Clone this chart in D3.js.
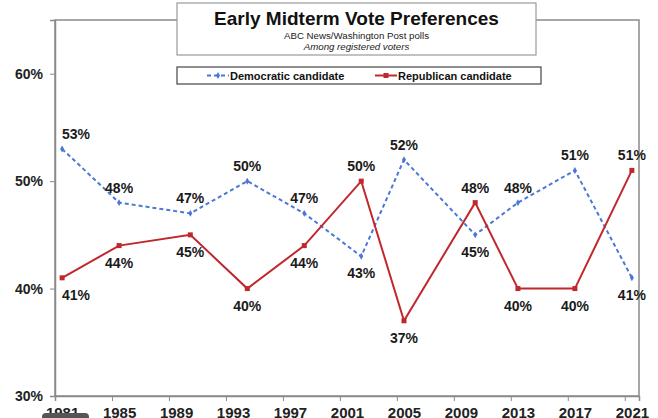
<!DOCTYPE html>
<html>
<head>
<meta charset="utf-8">
<script src="https://cdn.jsdelivr.net/npm/d3@7"></script>
<style>
  body { margin: 0; background: #fff; }
  svg { font-family: Arial, "Liberation Sans", sans-serif; display: block; }
</style>
</head>
<body>
<script>
// Data
const years = [1981.5, 1985.5, 1990.5, 1994.5, 1998.5, 2002.5, 2005.5, 2010.5, 2013.5, 2017.5, 2021.5];
const dem = [53, 48, 47, 50, 47, 43, 52, 45, 48, 51, 41];
const rep = [41, 44, 45, 40, 44, 50, 37, 48, 40, 40, 51];
const tickYears = [1981, 1985, 1989, 1993, 1997, 2001, 2005, 2009, 2013, 2017, 2021];
const yTicks = [30, 40, 50, 60];

const w = 658, h = 418;
const blue = '#4a78d4', red = '#c0282d';

const svg = d3.select('body').append('svg')
  .attr('width', w)
  .attr('height', h);

const x = d3.scaleLinear().domain([1981, 2022]).range([55, 639]);
const y = d3.scaleLinear().domain([30, 65]).range([396, 20]);

// plot frame
svg.append('rect')
  .attr('x', x(1981)).attr('y', y(65))
  .attr('width', x(2022) - x(1981)).attr('height', y(30) - y(65))
  .attr('fill', 'none').attr('stroke', '#8a8a8a').attr('stroke-width', 1.5);

// y axis
const yAxis = svg.append('g')
  .attr('transform', `translate(${x(1981)},0)`)
  .call(d3.axisLeft(y).tickValues(yTicks).tickSize(5).tickPadding(7).tickFormat(d => d + '%'));
yAxis.select('.domain').attr('stroke', '#8a8a8a').attr('stroke-width', 1.5);
yAxis.selectAll('.tick line').attr('stroke', '#8a8a8a');
yAxis.selectAll('text').attr('font-size', 14).attr('font-weight', 'bold').attr('fill', '#222')
  .attr('font-family', 'Arial, "Liberation Sans", sans-serif');

// x axis
const xAxis = svg.append('g')
  .attr('transform', `translate(0,${y(30)})`)
  .call(d3.axisBottom(x).tickValues(tickYears).tickSize(5).tickPadding(6).tickFormat(d => d));
xAxis.select('.domain').attr('stroke', '#8a8a8a').attr('stroke-width', 1.5);
xAxis.selectAll('.tick line').attr('stroke', '#8a8a8a');
xAxis.selectAll('text').attr('font-size', 15).attr('font-weight', 'bold').attr('fill', '#222')
  .attr('font-family', 'Arial, "Liberation Sans", sans-serif')
  .attr('dx', x(1981.5) - x(1981));

// dark tab overlapping the first year label
svg.append('rect')
  .attr('x', 42).attr('y', 413).attr('width', 47).attr('height', 12).attr('rx', 4)
  .attr('fill', '#555');

const line = d3.line().x(d => x(d[0])).y(d => y(d[1]));
const demPts = years.map((yr, i) => [yr, dem[i]]);
const repPts = years.map((yr, i) => [yr, rep[i]]);

svg.append('path').datum(demPts).attr('d', line)
  .attr('fill', 'none').attr('stroke', blue).attr('stroke-width', 2).attr('stroke-dasharray', '4,3');
svg.append('path').datum(repPts).attr('d', line)
  .attr('fill', 'none').attr('stroke', red).attr('stroke-width', 2);

svg.selectAll('.dm').data(demPts).enter().append('path')
  .attr('class', 'dm')
  .attr('d', d3.symbol(d3.symbolDiamond, 14))
  .attr('transform', d => `translate(${x(d[0])},${y(d[1])})`)
  .attr('fill', blue);
svg.selectAll('.rm').data(repPts).enter().append('rect')
  .attr('class', 'rm')
  .attr('x', d => x(d[0]) - 2.5).attr('y', d => y(d[1]) - 2.5)
  .attr('width', 5).attr('height', 5)
  .attr('fill', red);

// data labels: higher series above, lower below
function labelX(yr) {
  const cx = x(yr);
  return Math.max(cx, x(1981) + 21);
}
years.forEach((yr, i) => {
  const pairs = [[dem[i], dem[i] >= rep[i]], [rep[i], rep[i] > dem[i]]];
  pairs.forEach(([v, above]) => {
    svg.append('text')
      .attr('x', labelX(yr))
      .attr('y', above ? y(v) - 10 : y(v) + 22)
      .attr('text-anchor', 'middle')
      .attr('font-size', 14).attr('font-weight', 'bold').attr('fill', '#1a1a1a')
      .text(v + '%');
  });
});

// title box
svg.append('rect')
  .attr('x', 177).attr('y', 3).attr('width', 359).attr('height', 52)
  .attr('fill', '#fff').attr('stroke', '#9a9a9a').attr('stroke-width', 1.2);
svg.append('text').attr('x', 356.5).attr('y', 25).attr('text-anchor', 'middle')
  .attr('font-size', 19).attr('font-weight', 'bold').attr('fill', '#111')
  .text('Early Midterm Vote Preferences');
svg.append('text').attr('x', 356.5).attr('y', 39).attr('text-anchor', 'middle')
  .attr('font-size', 9.7).attr('fill', '#222')
  .text('ABC News/Washington Post polls');
svg.append('text').attr('x', 356.5).attr('y', 50).attr('text-anchor', 'middle')
  .attr('font-size', 9.7).attr('font-style', 'italic').attr('fill', '#222')
  .text('Among registered voters');

// legend
svg.append('rect')
  .attr('x', 177).attr('y', 67).attr('width', 364).attr('height', 17)
  .attr('fill', '#fff').attr('stroke', '#444').attr('stroke-width', 1.2);
const legend = [
  { name: 'Democratic candidate', color: blue, dash: '4,3', x0: 207 },
  { name: 'Republican candidate', color: red, dash: null, x0: 375 }
];
legend.forEach(l => {
  svg.append('line').attr('x1', l.x0).attr('x2', l.x0 + 22).attr('y1', 75.5).attr('y2', 75.5)
    .attr('stroke', l.color).attr('stroke-width', 2).attr('stroke-dasharray', l.dash);
  if (l.dash) {
    svg.append('path').attr('d', d3.symbol(d3.symbolDiamond, 14))
      .attr('transform', `translate(${l.x0 + 11},75.5)`).attr('fill', l.color);
  } else {
    svg.append('rect').attr('x', l.x0 + 8.5).attr('y', 73).attr('width', 5).attr('height', 5).attr('fill', l.color);
  }
  svg.append('text').attr('x', l.x0 + 23).attr('y', 79.5)
    .attr('font-size', 11).attr('font-weight', 'bold').attr('fill', '#111')
    .text(l.name);
});
</script>
</body>
</html>
